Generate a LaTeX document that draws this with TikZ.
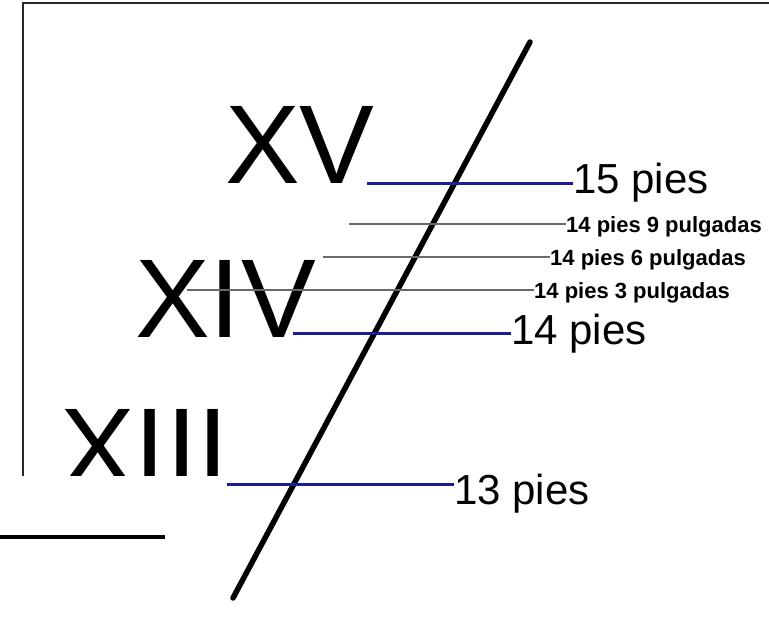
\documentclass[tikz,border=0pt]{standalone}
\usepackage{fontspec}
\setmainfont{Liberation Sans}
\definecolor{footblue}{RGB}{28,28,150}
\definecolor{inchgray}{RGB}{105,105,105}
\begin{document}
\begin{tikzpicture}[x=1pt, y=-1pt,
    roman/.style={anchor=base west, inner sep=0pt, font=\fontsize{112}{112}\selectfont},
    pies/.style={anchor=base west, inner sep=0pt, font=\fontsize{42}{42}\selectfont},
    pulg/.style={anchor=base west, inner sep=0pt, font=\bfseries\fontsize{22}{22}\selectfont},
    foot/.style={footblue, line width=3pt},
    inch/.style={inchgray, line width=2pt}]
    \useasboundingbox (0,0) rectangle (769,625);
    \draw [line width=2.6pt, black!85] (769,3)--(23,3)--(23,476);
    \node [roman] (xv) at (225,183) {XV};
    \node [roman] (xiv) at (135,337) {XIV};
    \node [roman] (xiii) at (60,486) {XIII};
    \fill [white] (0,476) rectangle (227,625);
    \draw [line width=3.5pt] (0,537)--(165,537);
    \coordinate (top) at (530,42);
    \coordinate (bot) at (233,598);
    \draw [line width=5.5pt, line cap=round] (top)--(bot);
    \coordinate (f15) at (367,183);
    \coordinate (f14) at (293,333);
    \coordinate (f13) at (227,484);
    \coordinate (i9) at (349,224);
    \coordinate (i6) at (323,257);
    \coordinate (i3) at (187,290);
    \node [pies] (l15) at (573,193) {15 pies};
    \node [pies] (l14) at (511,344) {14 pies};
    \node [pies] (l13) at (454,504) {13 pies};
    \node [pulg] (l9) at (566,232) {14 pies 9 pulgadas};
    \node [pulg] (l6) at (550,265) {14 pies 6 pulgadas};
    \node [pulg] (l3) at (534,298) {14 pies 3 pulgadas};
    \draw [inch] (i9)--(i9 -| l9.west);
    \draw [inch] (i6)--(i6 -| l6.west);
    \draw [inch] (i3)--(i3 -| l3.west);
    \draw [foot] (f15)--(f15 -| l15.west);
    \draw [foot] (f14)--(f14 -| l14.west);
    \draw [foot] (f13)--(f13 -| l13.west);
\end{tikzpicture}
\end{document}
